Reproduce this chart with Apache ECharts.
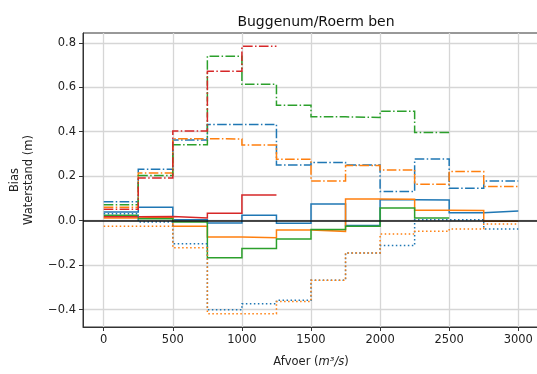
<!DOCTYPE html>
<html>
<head>
<meta charset="utf-8">
<script src="https://cdn.jsdelivr.net/npm/echarts@6/dist/echarts.min.js"></script>
<style>
html,body{margin:0;padding:0;background:#fff;}
#chart{width:537px;height:374px;}
</style>
</head>
<body>
<div id="chart"></div>
<script>
// Bin edges of discharge (m3/s)
const binEdges = [0, 250, 500, 750, 1000, 1250, 1500, 1750, 2000, 2250, 2500, 2750, 3000];
const xTicks = [0, 500, 1000, 1500, 2000, 2500, 3000];
const yTicks = [-0.4, -0.2, 0.0, 0.2, 0.4, 0.6, 0.8];

// Solid lines
const blueSolid   = [0.039, 0.061, 0.004, -0.010, 0.024, -0.012, 0.075, -0.022, 0.094, 0.093, 0.036, 0.044];
const orangeSolid = [0.012, 0.015, -0.025, -0.073, -0.077, -0.042, -0.048, 0.098, 0.097, 0.047, 0.046, -0.002];
const greenSolid  = [0.025, 0.009, -0.006, -0.167, -0.125, -0.082, -0.040, -0.025, 0.057, 0.012, null, null];
const redSolid    = [0.018, 0.019, 0.012, 0.034, 0.116, null, null, null, null, null, null, null];

// Dash-dot lines
const blueDashDot   = [0.085, 0.231, 0.363, 0.433, 0.433, 0.251, 0.262, 0.250, 0.131, 0.277, 0.146, 0.179];
const orangeDashDot = [0.060, 0.215, 0.369, 0.367, 0.340, 0.276, 0.179, 0.248, 0.228, 0.164, 0.221, 0.154];
const greenDashDot  = [0.072, 0.203, 0.341, 0.740, 0.613, 0.519, 0.467, 0.464, 0.492, 0.397, null, null];
const redDashDot    = [0.052, 0.192, 0.403, 0.672, 0.784, null, null, null, null, null, null, null];

// Dotted lines
const blueDotted   = [0.031, -0.006, -0.104, -0.400, -0.373, -0.358, -0.268, -0.145, -0.112, 0.004, 0.004, -0.037];
const orangeDotted = [-0.025, -0.025, -0.122, -0.418, -0.418, -0.363, -0.268, -0.145, -0.060, -0.048, -0.037, -0.015];

const C = {blue:'#1f77b4', orange:'#ff7f0e', green:'#2ca02c', red:'#d62728'};
const DASHDOT = [9.6, 2.4, 1.5, 2.4];
const DOTTED = [1.5, 2.5];

// build step (post) vertices from bin values
function stepPoints(vals) {
  const pts = [];
  vals.forEach((v, i) => {
    if (v !== null) {
      pts.push([binEdges[i], v]);
      pts.push([binEdges[i + 1], v]);
    }
  });
  return pts;
}
function mk(vals, color, dash) {
  return {
    type: 'line', showSymbol: false, symbol: 'none',
    data: stepPoints(vals),
    lineStyle: {color: color, width: 1.5, type: dash, cap: 'butt', join: 'miter'},
    z: 3
  };
}

const series = [
  mk(blueSolid, C.blue, 'solid'),
  mk(orangeSolid, C.orange, 'solid'),
  mk(greenSolid, C.green, 'solid'),
  mk(redSolid, C.red, 'solid'),
  mk(blueDashDot, C.blue, DASHDOT),
  mk(orangeDashDot, C.orange, DASHDOT),
  mk(greenDashDot, C.green, DASHDOT),
  mk(redDashDot, C.red, DASHDOT),
  mk(blueDotted, C.blue, DOTTED),
  mk(orangeDotted, C.orange, DOTTED)
];
series[0].markLine = {
  silent: true, symbol: 'none', label: {show: false},
  lineStyle: {color: '#111', width: 1.5, type: 'solid'},
  data: [{yAxis: 0}]
};

const font = 'DejaVu Sans';
const fmtY = v => (v < 0 ? '\u2212' : '') + Math.abs(v).toFixed(1);

const chart = echarts.init(document.getElementById('chart'), null, {renderer: 'canvas'});
chart.setOption({
  animation: false,
  backgroundColor: '#fff',
  title: {
    text: 'Buggenum/Roerm ben', left: 311, top: 10, textAlign: 'center',
    textStyle: {fontFamily: font, fontSize: 14, fontWeight: 'normal', color: '#111'}
  },
  grid: {left: 83, top: 33, width: 456, height: 294, containLabel: false, outerBoundsMode: 'none',
    show: true, borderColor: '#333', borderWidth: 1, backgroundColor: 'transparent'},
  xAxis: {
    type: 'value', min: -150, max: 3150,
    axisLine: {show: true, onZero: false, lineStyle: {color: '#333', width: 1}},
    axisTick: {show: true, length: 4, customValues: xTicks, lineStyle: {color: '#333'}},
    axisLabel: {customValues: xTicks, margin: 7, formatter: v => String(v), fontFamily: font, fontSize: 11.5, color: '#222'},
    splitLine: {show: true, lineStyle: {color: '#d6d6d6', width: 1.3}},
    name: 'Afvoer ({i|m}{i|\u00b3/s})',
    nameLocation: 'middle', nameGap: 29,
    nameTextStyle: {fontFamily: font, fontSize: 11.5, color: '#222',
      rich: {i: {fontFamily: font, fontStyle: 'italic', fontSize: 11.5, color: '#222'}}}
  },
  yAxis: {
    type: 'value', min: -0.478, max: 0.844,
    axisLine: {show: true, onZero: false, lineStyle: {color: '#333', width: 1}},
    axisTick: {show: true, length: 4, customValues: yTicks, lineStyle: {color: '#333'}},
    axisLabel: {customValues: yTicks, margin: 7, formatter: fmtY, fontFamily: font, fontSize: 11.5, color: '#222'},
    splitLine: {show: true, lineStyle: {color: '#d6d6d6', width: 1.3}},
    name: 'Bias\nWaterstand (m)',
    nameLocation: 'middle', nameGap: 47, nameRotate: 90,
    nameTextStyle: {fontFamily: font, fontSize: 11.5, color: '#222', lineHeight: 14}
  },
  series: series
});
</script>
</body>
</html>
